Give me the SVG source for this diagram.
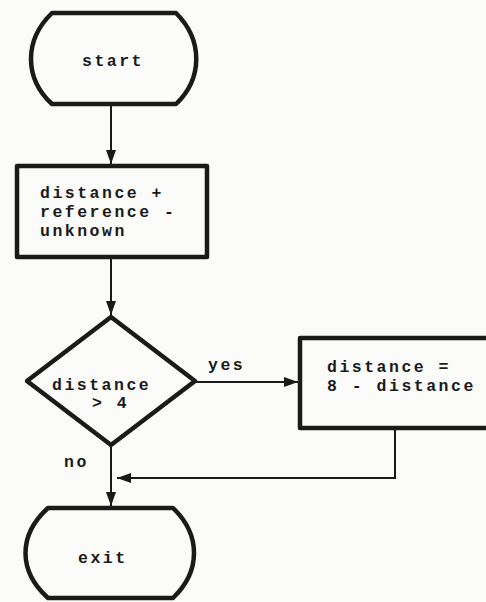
<svg xmlns="http://www.w3.org/2000/svg" width="486" height="602" viewBox="0 0 486 602">
  <defs>
    <marker id="arr" viewBox="0 0 14 10" refX="14" refY="5" markerWidth="14" markerHeight="10" markerUnits="userSpaceOnUse" orient="auto">
      <path d="M0,0 L14,5 L0,10 Z" fill="#1a1a1a"/>
    </marker>
    <style>
      .shape { fill: none; stroke: #1a1a1a; stroke-width: 4.5; stroke-linejoin: round; }
      .conn { fill: none; stroke: #1a1a1a; stroke-width: 2; }
      .t { font-family: "Liberation Mono", "DejaVu Sans Mono", monospace; font-size: 16.5px; letter-spacing: 2.5px; font-weight: bold; fill: #1a1a1a; }
    </style>
  </defs>
  <rect width="486" height="602" fill="#fbfbfa"/>

  <g id="connectors">
    <line class="conn" x1="111" y1="105" x2="111" y2="164" marker-end="url(#arr)"/>
    <line class="conn" x1="111" y1="258" x2="111" y2="315" marker-end="url(#arr)"/>
    <line class="conn" x1="196" y1="382" x2="298" y2="382" marker-end="url(#arr)"/>
    <line class="conn" x1="111" y1="446" x2="111" y2="506" marker-end="url(#arr)"/>
    <polyline class="conn" points="395,430 395,478 117,478" marker-end="url(#arr)"/>
    <text class="t" x="208" y="370">yes</text>
    <text class="t" x="64" y="467">no</text>
  </g>

  <g id="start">
    <path class="shape" d="M52,13 H176 C203,40 203,78 176,104 H52 C24,78 24,40 52,13 Z"/>
    <text class="t" x="82" y="66">start</text>
  </g>

  <g id="assign">
    <rect class="shape" x="17" y="166" width="190" height="91"/>
    <text class="t" x="40" y="198">distance +</text>
    <text class="t" x="40" y="217">reference -</text>
    <text class="t" x="40" y="236">unknown</text>
  </g>

  <g id="decision">
    <path class="shape" d="M111,317 L195,381 L111,445 L27,381 Z"/>
    <text class="t" x="52" y="390">distance</text>
    <text class="t" x="92" y="408">&gt; 4</text>
  </g>

  <g id="compute">
    <rect class="shape" x="300" y="338" width="200" height="90"/>
    <text class="t" x="327" y="372">distance =</text>
    <text class="t" x="327" y="391">8 - distance</text>
  </g>

  <g id="exit">
    <path class="shape" d="M48,508 H173 C201,535 201,571 173,598 H48 C18,571 18,535 48,508 Z"/>
    <text class="t" x="78" y="563">exit</text>
  </g>
</svg>
